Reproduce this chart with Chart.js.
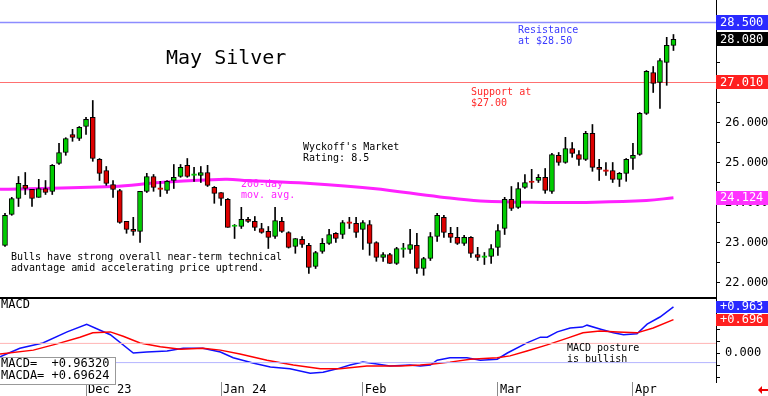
<!DOCTYPE html>
<html>
<head>
<meta charset="utf-8">
<script src="https://cdn.jsdelivr.net/npm/chart.js@4.4.1/dist/chart.umd.min.js"></script>
<style>
  body { margin: 0; background: #fff; width: 768px; height: 396px; overflow: hidden; position: relative; }
  #priceBox { position: absolute; left: 0; top: 0; width: 768px; height: 297px; }
  #macdBox { position: absolute; left: 0; top: 297px; width: 768px; height: 99px; }
</style>
</head>
<body>
<div id="priceBox"><canvas id="priceChart"></canvas></div>
<div id="macdBox"><canvas id="macdChart"></canvas></div>
<script>
// daily candles, mid Nov 2023 to early Apr 2024 (x = trading day index)
const opens = [22.93, 23.70, 24.10, 24.43, 24.33, 24.13, 24.35, 24.28, 24.98, 25.25,
  25.70, 25.60, 25.90, 26.13, 25.08, 24.80, 24.45, 24.30, 23.53, 23.33,
  23.28, 24.28, 24.65, 24.35, 24.30, 24.55, 24.65, 24.93, 24.68, 24.68,
  24.75, 24.38, 24.25, 24.08, 23.40, 23.40, 23.58, 23.53, 23.35, 23.28,
  23.15, 23.53, 23.25, 22.90, 23.08, 22.93, 22.40, 22.78, 22.98, 23.23,
  23.20, 23.50, 23.48, 23.33, 23.45, 23.00, 22.63, 22.70, 22.48, 22.83,
  22.83, 22.93, 22.35, 22.60, 23.15, 23.63, 23.23, 23.13, 22.98, 23.13,
  22.70, 22.63, 22.65, 22.88, 23.35, 24.08, 23.88, 24.38, 24.53, 24.55,
  24.63, 24.28, 25.18, 25.00, 25.35, 25.20, 25.08, 25.73, 24.88, 24.80,
  24.80, 24.58, 24.73, 25.10, 25.20, 26.23, 27.25, 27.00, 27.50, 27.93];
const highs = [23.73, 24.13, 24.65, 24.75, 24.33, 24.58, 24.55, 24.95, 25.48, 25.62,
  25.83, 25.90, 26.13, 26.55, 25.10, 24.90, 24.55, 24.33, 23.53, 23.63,
  24.28, 24.73, 24.70, 24.53, 24.55, 24.95, 24.95, 25.10, 24.88, 24.90,
  24.93, 24.40, 24.25, 24.10, 23.45, 23.88, 23.63, 23.65, 23.48, 23.40,
  23.88, 23.63, 23.27, 23.10, 23.15, 22.98, 22.78, 23.10, 23.33, 23.25,
  23.55, 23.63, 23.63, 23.55, 23.55, 23.02, 22.75, 22.73, 22.88, 22.98,
  23.33, 23.23, 22.63, 23.25, 23.73, 23.68, 23.38, 23.38, 23.18, 23.15,
  22.88, 22.75, 22.95, 23.45, 24.13, 24.40, 24.50, 24.70, 24.83, 24.70,
  24.85, 25.23, 25.25, 25.63, 25.50, 25.30, 25.78, 25.95, 25.08, 25.00,
  25.00, 24.75, 25.10, 25.48, 26.25, 27.30, 27.40, 27.60, 28.13, 28.20];
const lows = [22.90, 23.68, 23.90, 24.20, 23.90, 24.13, 24.20, 24.20, 24.95, 25.18,
  25.53, 25.55, 25.70, 25.03, 24.55, 24.43, 24.13, 23.48, 23.23, 23.18,
  23.00, 24.25, 24.28, 24.15, 24.23, 24.35, 24.63, 24.63, 24.53, 24.50,
  24.40, 23.98, 23.93, 23.38, 23.10, 23.35, 23.50, 23.30, 23.23, 22.85,
  23.10, 23.25, 22.86, 22.73, 22.88, 22.23, 22.35, 22.73, 22.95, 23.00,
  23.10, 23.35, 23.13, 22.83, 22.68, 22.53, 22.53, 22.48, 22.45, 22.63,
  22.73, 22.23, 22.18, 22.55, 23.03, 23.13, 23.00, 22.95, 22.93, 22.63,
  22.55, 22.45, 22.48, 22.68, 23.20, 23.80, 23.85, 24.35, 24.35, 24.50,
  24.23, 24.23, 24.93, 24.98, 25.13, 24.93, 25.05, 24.78, 24.55, 24.68,
  24.50, 24.40, 24.53, 24.83, 25.18, 26.20, 26.75, 26.35, 26.93, 27.80];
const closes = [23.68, 24.10, 24.48, 24.35, 24.10, 24.35, 24.25, 24.93, 25.25, 25.60,
  25.63, 25.88, 26.08, 25.10, 24.73, 24.48, 24.33, 23.50, 23.33, 23.28,
  24.28, 24.65, 24.38, 24.33, 24.53, 24.63, 24.88, 24.65, 24.70, 24.75,
  24.43, 24.23, 24.10, 23.38, 23.43, 23.58, 23.53, 23.38, 23.25, 23.13,
  23.55, 23.28, 22.88, 23.10, 22.95, 22.38, 22.75, 22.98, 23.20, 23.10,
  23.50, 23.48, 23.25, 23.50, 22.98, 22.63, 22.70, 22.48, 22.85, 22.85,
  22.95, 22.35, 22.60, 23.15, 23.68, 23.25, 23.13, 22.98, 23.13, 22.73,
  22.63, 22.65, 22.85, 23.30, 24.08, 23.85, 24.35, 24.50, 24.50, 24.63,
  24.30, 25.20, 25.00, 25.35, 25.23, 25.08, 25.73, 24.88, 24.83, 24.78,
  24.58, 24.73, 25.08, 25.18, 26.23, 27.28, 26.98, 27.55, 27.93, 28.08];

// 200-day moving average, read at a few points along the curve
const maIdx = [-0.74, 16, 23, 32.6, 36, 44.7, 54.5, 64.4, 70.4, 81.5, 85, 95, 99];
const maVals = [24.33, 24.40, 24.50, 24.58, 24.55, 24.48, 24.35, 24.14, 24.04, 24.00, 24.00, 24.05, 24.12];

// MACD (blue) and signal (red)
const macdIdx = [-0.74, 2.2, 5.6, 9.2, 12.1, 15.6, 19, 21, 24, 26.4, 29.3, 31.9, 33.8, 36.7, 39.3, 42.2,
  45.2, 47.1, 49.2, 51.1, 53, 55.1, 57, 60, 61.5, 63, 64, 65.9, 68.4, 70.4, 72.9, 74.4,
  77.3, 79.3, 80.3, 81.8, 83.7, 85.5, 86.2, 88.1, 90.1, 91.6, 93.6, 95.1, 97, 99];
const macdVals = [-0.08, 0.10, 0.21, 0.44, 0.60, 0.38, 0.00, 0.02, 0.04, 0.10, 0.10, 0.02, -0.10, -0.21, -0.29, -0.33,
  -0.42, -0.40, -0.33, -0.25, -0.19, -0.23, -0.27, -0.25, -0.27, -0.25, -0.15, -0.10, -0.10, -0.15, -0.13, 0.00,
  0.21, 0.33, 0.33, 0.44, 0.52, 0.54, 0.58, 0.50, 0.42, 0.38, 0.40, 0.60, 0.75, 0.963];
const signalIdx = [-0.74, 4.2, 7.7, 11.1, 13, 15.6, 17.5, 20, 23, 26, 29.3, 31.9, 34.8, 38.8, 42.7, 46.7,
  49.6, 53.6, 58.5, 61.5, 63.4, 65.9, 68.9, 72.9, 74.8, 77.3, 80.3, 83.3, 85.6, 88.1, 90.7, 93.6, 96, 99];
const signalVals = [-0.02, 0.06, 0.19, 0.33, 0.42, 0.44, 0.35, 0.21, 0.13, 0.08, 0.10, 0.06, -0.02, -0.15, -0.25, -0.33,
  -0.33, -0.27, -0.27, -0.25, -0.23, -0.19, -0.13, -0.10, -0.06, 0.04, 0.17, 0.31, 0.42, 0.46, 0.44, 0.42, 0.52, 0.696];

const monthTicks = [12, 32, 53, 73, 93];
const monthLabels = ['Dec 23', 'Jan 24', 'Feb', 'Mar', 'Apr'];
const priceTicks = [22, 22.5, 23, 23.5, 24, 24.5, 25, 25.5, 26, 26.5, 27, 27.5, 28, 28.5];
const macdTicks = [-0.5, -0.25, 0, 0.25, 0.5, 0.75, 1];

const resistance = 28.50;
const support = 27.00;
const supportTag = 27.010;
const maTag = 24.124;
const lastClose = 28.080;
const macdNow = 0.96320;
const macdaNow = 0.69624;
const macdLevels = [0.2, -0.2];

const X_MIN = -0.74, X_MAX = 105.3;
const MONO = "'DejaVu Sans Mono', monospace";
const GREEN = '#00cc00', RED = '#dd0000';

Chart.defaults.animation = false;
Chart.defaults.font.family = MONO;
Chart.defaults.color = '#000';

function pts(xs, ys) {
    return xs.map((x, i) => ({ x, y: ys[i] }));
}

// keep chart area flush with the canvas edges
function noPad(s) {
    s.paddingTop = 0;
    s.paddingBottom = 0;
    s.paddingLeft = 0;
    s.paddingRight = 0;
}

function tag(ctx, y, color, text, h) {
    ctx.fillStyle = color;
    ctx.fillRect(716, Math.round(y - h / 2), 52, h);
    ctx.fillStyle = '#fff';
    ctx.font = '12px ' + MONO;
    ctx.textBaseline = 'middle';
    ctx.textAlign = 'left';
    ctx.fillText(text, 720, y + 0.5);
}

function label(ctx, lines, x, y, color, size) {
    ctx.fillStyle = color;
    ctx.font = size + 'px ' + MONO;
    ctx.textBaseline = 'middle';
    ctx.textAlign = 'left';
    lines.forEach((t, i) => ctx.fillText(t, x, y + i * 11));
}

const priceNotes = {
    id: 'priceNotes',
    afterDatasetsDraw(chart) {
        const ctx = chart.ctx;
        ctx.save();
        ctx.fillStyle = '#000';
        ctx.font = '20px ' + MONO;
        ctx.textBaseline = 'alphabetic';
        ctx.fillText('May Silver', 166, 64);
        label(ctx, ['Resistance', 'at $28.50'], 518, 30, '#3a3aff', 10);
        label(ctx, ['Support at', '$27.00'], 471, 92, '#ff2a2a', 10);
        label(ctx, ["Wyckoff's Market", 'Rating: 8.5'], 303, 147, '#000', 10);
        label(ctx, ['200-day', 'mov. avg.'], 241, 184, '#ff22ff', 10);
        label(ctx, ['Bulls have strong overall near-term technical',
            'advantage amid accelerating price uptrend.'], 11, 257, '#000', 10);
        ctx.restore();
    },
    afterDraw(chart) {
        const ctx = chart.ctx, y = chart.scales.y;
        ctx.save();
        tag(ctx, y.getPixelForValue(resistance), '#2a2aff', resistance.toFixed(3), 15);
        tag(ctx, y.getPixelForValue(lastClose), '#000', lastClose.toFixed(3), 14);
        tag(ctx, y.getPixelForValue(supportTag), '#ff2020', supportTag.toFixed(3), 14);
        tag(ctx, y.getPixelForValue(maTag), '#ff33ff', maTag.toFixed(3), 14);
        ctx.restore();
    }
};

new Chart(document.getElementById('priceChart'), {
    type: 'bar',
    data: {
        datasets: [
            {
                type: 'line', order: 6,
                data: pts([X_MIN, X_MAX], [resistance, resistance]),
                borderColor: '#8c8cff', borderWidth: 1.5, pointRadius: 0
            },
            {
                type: 'line', order: 5,
                data: pts([X_MIN, X_MAX], [support, support]),
                borderColor: '#ff7070', borderWidth: 1, pointRadius: 0
            },
            {
                type: 'line', order: 4,
                data: pts(maIdx, maVals),
                borderColor: '#ff22ff', borderWidth: 3, pointRadius: 0, tension: 0.4
            },
            {
                order: 3, grouped: false, barThickness: 1,
                data: lows.map((l, i) => ({ x: i, y: [l, highs[i]] })),
                backgroundColor: '#000'
            },
            {
                order: 2, grouped: false, barThickness: 5, minBarLength: 1.5,
                data: opens.map((o, i) => ({ x: i, y: [o, closes[i]] })),
                backgroundColor: c => closes[c.dataIndex] >= opens[c.dataIndex] ? GREEN : RED,
                borderColor: c => {
                    const i = c.dataIndex;
                    if (Math.abs(closes[i] - opens[i]) < 0.04) return closes[i] >= opens[i] ? GREEN : RED;
                    return '#000';
                },
                borderWidth: 1, borderSkipped: false
            }
        ]
    },
    options: {
        responsive: true,
        maintainAspectRatio: false,
        layout: { padding: 0 },
        plugins: { legend: { display: false }, tooltip: { enabled: false } },
        scales: {
            x: {
                type: 'linear', min: X_MIN, max: X_MAX, offset: false, display: false
            },
            y: {
                position: 'right', min: 21.6375, max: 29.0625,
                afterBuildTicks: s => { s.ticks = priceTicks.map(v => ({ value: v })); },
                afterFit: s => { s.width = 52; noPad(s); },
                ticks: {
                    padding: 5, autoSkip: false,
                    font: { size: 12 },
                    callback: v => (v % 1 === 0 ? v.toFixed(3) : '')
                },
                grid: { drawOnChartArea: false, tickLength: 4, color: '#000' },
                border: { color: '#000', width: 1 }
            }
        }
    },
    plugins: [priceNotes]
});

const macdNotes = {
    id: 'macdNotes',
    afterDatasetsDraw(chart) {
        const ctx = chart.ctx, a = chart.chartArea;
        ctx.save();
        // panel separator
        ctx.strokeStyle = '#000';
        ctx.lineWidth = 2;
        ctx.beginPath();
        ctx.moveTo(0, a.top + 1);
        ctx.lineTo(a.right, a.top + 1);
        ctx.stroke();
        label(ctx, ['MACD'], 1, 8, '#000', 12);
        label(ctx, ['MACD posture', 'is bullish'], 567, 51, '#000', 10);
        // readout box
        ctx.fillStyle = '#fff';
        ctx.fillRect(0, 60, 116, 27);
        ctx.strokeStyle = '#999';
        ctx.lineWidth = 1;
        ctx.strokeRect(-0.5, 60.5, 116, 27);
        ctx.fillStyle = '#000';
        ctx.font = '12px ' + MONO;
        ctx.textBaseline = 'middle';
        ctx.fillText('MACD=  +' + macdNow.toFixed(5), 1, 67);
        ctx.fillText('MACDA= +' + macdaNow.toFixed(5), 1, 79);
        ctx.restore();
    },
    afterDraw(chart) {
        const ctx = chart.ctx, y = chart.scales.y;
        ctx.save();
        tag(ctx, y.getPixelForValue(macdNow), '#2a2aff', '+' + macdNow.toFixed(3), 12);
        tag(ctx, y.getPixelForValue(macdaNow), '#ff2020', '+' + macdaNow.toFixed(3), 12);
        // little red arrow, bottom right
        ctx.fillStyle = '#ee0000';
        ctx.beginPath();
        ctx.moveTo(758, 93);
        ctx.lineTo(762, 89);
        ctx.lineTo(762, 97);
        ctx.closePath();
        ctx.fill();
        ctx.fillRect(762, 92, 6, 2);
        ctx.restore();
    }
};

new Chart(document.getElementById('macdChart'), {
    type: 'line',
    data: {
        datasets: [
            {
                data: pts([X_MIN, X_MAX], [macdLevels[0], macdLevels[0]]),
                borderColor: '#ffb4b4', borderWidth: 1, pointRadius: 0
            },
            {
                data: pts([X_MIN, X_MAX], [macdLevels[1], macdLevels[1]]),
                borderColor: '#b4b4ff', borderWidth: 1, pointRadius: 0
            },
            {
                data: pts(signalIdx, signalVals),
                borderColor: '#ff0000', borderWidth: 1.5, pointRadius: 0
            },
            {
                data: pts(macdIdx, macdVals),
                borderColor: '#1010ff', borderWidth: 1.5, pointRadius: 0
            }
        ]
    },
    options: {
        responsive: true,
        maintainAspectRatio: false,
        layout: { padding: 0 },
        plugins: { legend: { display: false }, tooltip: { enabled: false } },
        scales: {
            x: {
                type: 'linear', min: X_MIN, max: X_MAX, offset: false,
                afterBuildTicks: s => { s.ticks = monthTicks.map(v => ({ value: v })); },
                afterFit: s => { s.height = 14; noPad(s); },
                ticks: {
                    align: 'start', padding: -13, labelOffset: 2, maxRotation: 0, autoSkip: false,
                    font: { size: 12 },
                    callback: v => monthLabels[monthTicks.indexOf(v)]
                },
                grid: { drawOnChartArea: false, tickLength: 14, color: '#8a8a8a' },
                border: { display: false }
            },
            y: {
                position: 'right', min: -0.604, max: 1.1667,
                afterBuildTicks: s => { s.ticks = macdTicks.map(v => ({ value: v })); },
                afterFit: s => { s.width = 52; noPad(s); },
                ticks: {
                    padding: 5, autoSkip: false,
                    font: { size: 12 },
                    callback: v => (v === 0 ? '0.000' : '')
                },
                grid: { drawOnChartArea: false, tickLength: 4, color: '#000' },
                border: { color: '#000', width: 1 }
            }
        }
    },
    plugins: [macdNotes]
});
</script>
</body>
</html>
